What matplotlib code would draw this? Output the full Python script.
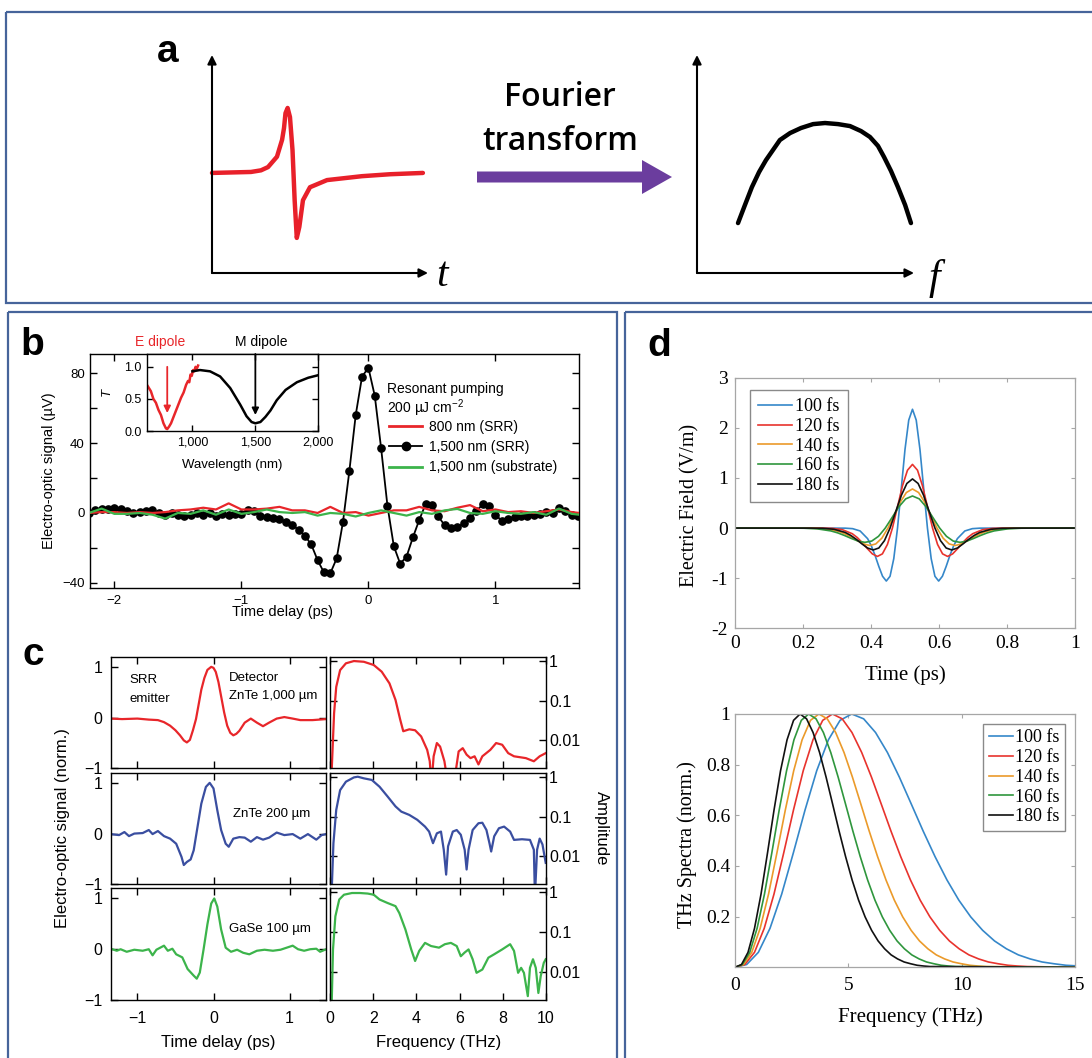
import matplotlib
matplotlib.use('Agg')
import matplotlib.pyplot as plt
from matplotlib.patches import Rectangle, FancyArrow
from matplotlib.lines import Line2D
from matplotlib.ticker import NullLocator

plt.rcParams['font.family'] = ['Liberation Sans', 'DejaVu Sans']
plt.rcParams['mathtext.fontset'] = 'custom'
plt.rcParams['mathtext.rm'] = 'Liberation Sans'
plt.rcParams['mathtext.it'] = 'Liberation Sans:italic'
plt.rcParams['axes.linewidth'] = 1.0

# ---------------- data: panel a (schematic) ----------------
pulse_time = [0.0, 0.183, 0.23, 0.263, 0.305, 0.329, 0.338, 0.345, 0.355, 0.366, 0.378,
              0.388, 0.398, 0.41, 0.427, 0.46, 0.54, 0.704, 0.836, 0.99]
pulse_amp = [0.0, 0.015, 0.04, 0.09, 0.25, 0.51, 0.69, 0.92, 1.0, 0.86, 0.35,
             -0.42, -1.0, -0.83, -0.42, -0.22, -0.11, -0.05, -0.02, 0.0]
arc_freq = [0.189, 0.221, 0.253, 0.286, 0.318, 0.382, 0.429, 0.479, 0.535, 0.59, 0.65,
            0.705, 0.756, 0.797, 0.834, 0.862, 0.894, 0.926, 0.959, 0.986]
arc_amp = [0.229, 0.312, 0.394, 0.463, 0.518, 0.61, 0.642, 0.665, 0.683, 0.688, 0.683,
           0.674, 0.651, 0.624, 0.583, 0.532, 0.468, 0.394, 0.312, 0.229]

# ---------------- data: panel b ----------------
b_time_black = [-2.20, -2.15, -2.10, -2.05, -2.00, -1.95, -1.90, -1.85, -1.80, -1.75, -1.70,
                -1.65, -1.60, -1.55, -1.50, -1.45, -1.40, -1.35, -1.30, -1.25, -1.20, -1.15,
                -1.10, -1.05, -1.00, -0.95, -0.90, -0.85, -0.80, -0.75, -0.70, -0.65, -0.60,
                -0.55, -0.50, -0.45, -0.40, -0.35, -0.30, -0.25, -0.20, -0.15, -0.10, -0.05,
                0.00, 0.05, 0.10, 0.15, 0.20, 0.25, 0.30, 0.35, 0.40, 0.45, 0.50, 0.55, 0.60,
                0.65, 0.70, 0.75, 0.80, 0.85, 0.90, 0.95, 1.00, 1.05, 1.10, 1.15, 1.20, 1.25,
                1.30, 1.35, 1.40, 1.45, 1.50, 1.55, 1.60, 1.65]
b_sig_black = [0, 1.5, 2.5, 2.5, 3, 2, 1, 0, 0.5, 1, 1.5,
               0, -1, 0, -1, -1.5, -1, 0, -1, 0, -1.5, -0.5,
               -1, -0.5, -0.5, 1.5, 1, -1.5, -2.5, -3, -3.5, -5, -7,
               -9.5, -13, -18, -27, -34, -34.5, -26, -5, 24, 56, 78,
               83, 67, 37, 4, -19, -29, -25, -14, -4, 5, 4.5, -2, -7,
               -8.5, -8, -6, -3, 1, 5, 4, -1, -4.5, -3.5, -2.5, -2, -1.5,
               -1, -0.5, 0.5, 0, 3, 1, -1, -1.5]
b_time_line = [-2.2, -2.1, -2.0, -1.9, -1.8, -1.7, -1.6, -1.5, -1.4, -1.3, -1.2, -1.1, -1.0,
               -0.9, -0.8, -0.7, -0.6, -0.5, -0.4, -0.3, -0.2, -0.1, 0.0, 0.1, 0.2, 0.3, 0.4,
               0.5, 0.6, 0.7, 0.8, 0.9, 1.0, 1.1, 1.2, 1.3, 1.4, 1.5, 1.6, 1.66]
b_sig_red = [0, 0.5, 0.5, 0, 0.5, 0, 0.5, 1.5, 2, 3, 2, 5.5, 2,
             2, 2.5, 3.5, 1.5, 1.5, 0, 3.5, 0, 0.5, -1.5, 0, 1.5, 1.5, 3.5,
             1.5, 1, 3, 4.5, 1, 2, 0.5, 1, 0, 1, 2, 0.5, 0]
b_sig_green = [0, 2.5, -0.5, -0.5, 0, -1, -3.2, 0, -0.5, 1.5, -1, 2, -0.5,
               0.5, 2, 0.5, 0, 0.5, -1.5, 0, -0.5, -2, 0, 1.5, 0, -1.5, 0.5,
               -0.5, 1.5, 2.3, 0, -0.5, 1, 0, -0.5, 0.5, -1, 2.5, -0.5, -1]
b_legend = ['800 nm (SRR)', '1,500 nm (SRR)', '1,500 nm (substrate)']

inset_red_wl = [645, 670, 690, 710, 730, 750, 770, 790, 800, 815, 830, 850, 870, 890, 910,
                930, 950, 965, 975, 985, 995, 1005, 1015, 1025, 1035, 1045]
inset_red_T = [0.70, 0.62, 0.50, 0.44, 0.33, 0.25, 0.12, 0.04, 0.03, 0.07, 0.12, 0.22, 0.32,
               0.42, 0.52, 0.60, 0.72, 0.78, 0.76, 0.88, 0.86, 0.95, 0.93, 1.0, 0.97, 1.02]
inset_blk_wl = [1000, 1060, 1140, 1220, 1300, 1380, 1430, 1470, 1500, 1540, 1580, 1620, 1670,
                1740, 1830, 1920, 2000]
inset_blk_T = [0.93, 0.95, 0.93, 0.85, 0.67, 0.41, 0.23, 0.14, 0.12, 0.14, 0.22, 0.32, 0.48,
               0.64, 0.76, 0.83, 0.87]

# ---------------- data: panel c ----------------
c1_t = [-1.35, -1.2, -1.0, -0.85, -0.73, -0.65, -0.57, -0.5, -0.44, -0.39, -0.35, -0.31, -0.27,
        -0.23, -0.19, -0.16, -0.12, -0.08, -0.03, 0.0, 0.03, 0.065, 0.10, 0.14, 0.18, 0.22,
        0.26, 0.30, 0.34, 0.41, 0.49, 0.57, 0.65, 0.73, 0.83, 0.93, 1.04, 1.14, 1.30, 1.48]
c1_v = [-0.02, -0.03, -0.02, -0.04, -0.05, -0.09, -0.16, -0.25, -0.35, -0.45, -0.49, -0.44,
        -0.25, -0.03, 0.3, 0.55, 0.78, 0.94, 1.0, 0.98, 0.9, 0.7, 0.42, 0.1, -0.16, -0.3,
        -0.35, -0.32, -0.26, -0.1, -0.02, -0.1, -0.17, -0.1, -0.02, 0.01, -0.02, -0.05,
        -0.05, -0.03]
c1_f = [0.05, 0.18, 0.28, 0.46, 0.73, 1.1, 1.56, 2.02, 2.39, 2.75, 3.03, 3.25, 3.39, 3.67,
        3.94, 4.22, 4.5, 4.62, 4.7, 4.8, 4.95, 5.1, 5.3, 5.45, 5.75, 5.96, 6.15, 6.33, 6.51,
        6.7, 6.88, 7.06, 7.43, 7.7, 7.98, 8.26, 8.53, 9.08, 9.45, 9.72, 10.0]
c1_a = [0.001, 0.048, 0.22, 0.58, 0.86, 0.98, 0.94, 0.78, 0.53, 0.27, 0.104, 0.033, 0.017,
        0.019, 0.018, 0.0126, 0.0058, 0.003, 0.0008, 0.004, 0.0086, 0.007, 0.003, 0.0009,
        0.0009, 0.0053, 0.0064, 0.0044, 0.0036, 0.004, 0.0025, 0.004, 0.0058, 0.0086, 0.0078,
        0.0048, 0.004, 0.0036, 0.003, 0.004, 0.0048]

c2_t = [-1.35, -1.24, -1.17, -1.11, -1.04, -0.93, -0.85, -0.80, -0.73, -0.65, -0.57, -0.49,
        -0.42, -0.39, -0.35, -0.30, -0.26, -0.21, -0.16, -0.10, -0.05, 0.0, 0.05, 0.10, 0.16,
        0.20, 0.26, 0.34, 0.41, 0.49, 0.57, 0.65, 0.73, 0.83, 0.93, 1.04, 1.14, 1.24, 1.35,
        1.42, 1.48]
c2_v = [-0.01, -0.03, 0.03, -0.05, 0.0, 0.01, 0.07, -0.01, 0.05, -0.05, -0.1, -0.2, -0.46,
        -0.62, -0.56, -0.51, -0.33, 0.13, 0.59, 0.92, 1.0, 0.89, 0.46, 0.07, -0.2, -0.26,
        -0.1, -0.07, -0.08, -0.16, -0.07, -0.12, -0.08, 0.02, -0.03, -0.01, -0.1, -0.01,
        -0.12, -0.03, -0.01]
c2_f = [0.06, 0.15, 0.28, 0.46, 0.73, 1.1, 1.28, 1.56, 1.93, 2.29, 2.66, 3.03, 3.3, 3.67,
        4.04, 4.4, 4.59, 4.77, 4.95, 5.14, 5.27, 5.38, 5.47, 5.69, 5.87, 6.06, 6.24, 6.33,
        6.42, 6.61, 6.88, 7.06, 7.25, 7.39, 7.47, 7.61, 7.83, 8.07, 8.35, 8.53, 8.9, 9.27,
        9.45, 9.5, 9.6, 9.72, 9.85, 10.0]
c2_a = [0.001, 0.0215, 0.147, 0.46, 0.75, 0.96, 1.0, 0.91, 0.83, 0.56, 0.32, 0.18, 0.133,
        0.11, 0.083, 0.056, 0.042, 0.0215, 0.038, 0.042, 0.0147, 0.0035, 0.018, 0.042, 0.046,
        0.035, 0.0147, 0.0047, 0.0147, 0.046, 0.068, 0.07, 0.046, 0.0215, 0.0133, 0.032,
        0.051, 0.056, 0.042, 0.026, 0.027, 0.026, 0.0147, 0.001, 0.0147, 0.028, 0.02, 0.0069]

c3_t = [-1.35, -1.27, -1.22, -1.14, -1.04, -0.93, -0.85, -0.80, -0.75, -0.65, -0.60, -0.54,
        -0.49, -0.41, -0.34, -0.26, -0.22, -0.18, -0.13, -0.08, -0.03, 0.01, 0.05, 0.10, 0.16,
        0.23, 0.31, 0.39, 0.47, 0.57, 0.67, 0.78, 0.88, 0.96, 1.04, 1.11, 1.19, 1.27, 1.35,
        1.40, 1.48]
c3_v = [0.01, -0.03, 0.0, -0.05, -0.01, -0.03, 0.0, -0.12, -0.01, 0.07, -0.03, 0.01, -0.1,
        -0.16, -0.39, -0.52, -0.58, -0.46, 0.0, 0.49, 0.9, 1.0, 0.84, 0.39, 0.03, -0.05,
        -0.01, -0.07, -0.1, -0.03, -0.01, -0.03, -0.01, 0.03, 0.07, 0.0, -0.03, 0.0, 0.01,
        -0.05, 0.0]
c3_f = [0.06, 0.13, 0.24, 0.42, 0.64, 1.01, 1.38, 1.74, 2.02, 2.29, 2.66, 3.03, 3.21, 3.49,
        3.76, 3.94, 4.13, 4.4, 4.68, 5.05, 5.32, 5.6, 5.87, 6.06, 6.24, 6.42, 6.61, 6.79,
        7.06, 7.34, 7.61, 7.98, 8.35, 8.53, 8.72, 8.86, 8.99, 9.17, 9.27, 9.41, 9.54, 9.66,
        9.77, 9.91, 10.0]
c3_a = [0.001, 0.037, 0.25, 0.66, 0.87, 0.96, 0.96, 0.93, 0.87, 0.66, 0.54, 0.45, 0.3,
        0.117, 0.037, 0.019, 0.034, 0.054, 0.045, 0.041, 0.05, 0.054, 0.045, 0.025, 0.031,
        0.037, 0.021, 0.0096, 0.0116, 0.023, 0.028, 0.037, 0.05, 0.034, 0.0096, 0.0128,
        0.0096, 0.0025, 0.0128, 0.021, 0.0128, 0.003, 0.008, 0.017, 0.021]
c_labels = ['ZnTe 1,000 µm', 'ZnTe 200 µm', 'GaSe 100 µm']

# ---------------- data: panel d ----------------
d_labels = ['100 fs', '120 fs', '140 fs', '160 fs', '180 fs']
t_100 = [0.0, 0.324, 0.346, 0.368, 0.390, 0.401, 0.412, 0.423, 0.434, 0.445, 0.456, 0.467,
         0.478, 0.489, 0.500, 0.511, 0.522, 0.533, 0.544, 0.555, 0.566, 0.577, 0.588, 0.599,
         0.610, 0.621, 0.632, 0.643, 0.654, 0.676, 0.698, 0.720, 1.0]
e_100 = [0.0, -0.002, -0.012, -0.058, -0.211, -0.355, -0.547, -0.766, -0.962, -1.057, -0.962,
         -0.610, 0.0, 0.783, 1.569, 2.154, 2.370, 2.154, 1.569, 0.783, 0.0, -0.610, -0.962,
         -1.057, -0.962, -0.766, -0.547, -0.355, -0.211, -0.058, -0.012, -0.002, 0.0]
t_120 = [0.0, 0.2565, 0.286, 0.3155, 0.345, 0.3598, 0.3745, 0.3893, 0.404, 0.4188, 0.4335,
         0.4483, 0.463, 0.4778, 0.4925, 0.5073, 0.522, 0.5368, 0.5515, 0.5663, 0.581, 0.5958,
         0.6105, 0.6253, 0.640, 0.6548, 0.6695, 0.6843, 0.699, 0.7285, 0.758, 0.7875, 1.0]
e_120 = [0.0, -0.001, -0.006, -0.031, -0.113, -0.190, -0.293, -0.410, -0.516, -0.566, -0.515,
         -0.327, 0.0, 0.419, 0.841, 1.154, 1.270, 1.154, 0.841, 0.419, 0.0, -0.327, -0.515,
         -0.566, -0.516, -0.410, -0.293, -0.190, -0.113, -0.031, -0.006, -0.001, 0.0]
t_140 = [0.0, 0.198, 0.234, 0.270, 0.306, 0.324, 0.342, 0.360, 0.378, 0.396, 0.414, 0.432,
         0.450, 0.468, 0.486, 0.504, 0.522, 0.540, 0.558, 0.576, 0.594, 0.612, 0.630, 0.648,
         0.666, 0.684, 0.702, 0.720, 0.738, 0.774, 0.810, 0.846, 1.0]
e_140 = [0.0, -0.001, -0.004, -0.019, -0.069, -0.117, -0.180, -0.252, -0.317, -0.348, -0.317,
         -0.201, 0.0, 0.258, 0.516, 0.709, 0.780, 0.709, 0.516, 0.258, 0.0, -0.201, -0.317,
         -0.348, -0.317, -0.252, -0.180, -0.117, -0.069, -0.019, -0.004, -0.001, 0.0]
t_160 = [0.0, 0.162, 0.202, 0.242, 0.282, 0.302, 0.322, 0.342, 0.362, 0.382, 0.402, 0.422,
         0.442, 0.462, 0.482, 0.502, 0.522, 0.542, 0.562, 0.582, 0.602, 0.622, 0.642, 0.662,
         0.682, 0.702, 0.722, 0.742, 0.762, 0.802, 0.842, 0.882, 1.0]
e_160 = [0.0, -0.0005, -0.003, -0.016, -0.057, -0.096, -0.148, -0.207, -0.260, -0.285, -0.260,
         -0.165, 0.0, 0.211, 0.424, 0.582, 0.640, 0.582, 0.424, 0.211, 0.0, -0.165, -0.260,
         -0.285, -0.260, -0.207, -0.148, -0.096, -0.057, -0.016, -0.003, -0.0005, 0.0]
t_180 = [0.0, 0.225, 0.258, 0.291, 0.324, 0.3405, 0.357, 0.3735, 0.390, 0.4065, 0.423, 0.4395,
         0.456, 0.4725, 0.489, 0.5055, 0.522, 0.5385, 0.555, 0.5715, 0.588, 0.6045, 0.621,
         0.6375, 0.654, 0.6705, 0.687, 0.7035, 0.720, 0.753, 0.786, 0.819, 1.0]
e_180 = [0.0, -0.001, -0.005, -0.024, -0.087, -0.147, -0.226, -0.317, -0.398, -0.437, -0.398,
         -0.252, 0.0, 0.324, 0.649, 0.890, 0.980, 0.890, 0.649, 0.324, 0.0, -0.252, -0.398,
         -0.437, -0.398, -0.317, -0.226, -0.147, -0.087, -0.024, -0.005, -0.001, 0.0]

f_100 = [0.0, 0.515, 1.03, 1.545, 2.06, 2.575, 3.09, 3.605, 4.12, 4.635, 5.15, 5.675, 6.2,
         6.725, 7.25, 7.775, 8.3, 8.825, 9.35, 9.875, 10.4, 10.925, 11.45, 11.975, 12.5,
         13.025, 13.55, 14.075, 14.6, 15.0]
s_100 = [0.0, 0.011, 0.059, 0.154, 0.289, 0.452, 0.621, 0.776, 0.898, 0.975, 1.0, 0.981,
         0.927, 0.848, 0.751, 0.645, 0.538, 0.437, 0.345, 0.265, 0.199, 0.146, 0.104, 0.073,
         0.049, 0.033, 0.021, 0.014, 0.008, 0.006]
f_120 = [0.0, 0.43, 0.86, 1.29, 1.72, 2.15, 2.58, 3.01, 3.44, 3.87, 4.3, 4.73, 5.16, 5.59,
         6.02, 6.45, 6.88, 7.31, 7.74, 8.17, 8.6, 9.03, 9.46, 9.89, 10.32, 10.75, 11.18, 11.61,
         12.04, 12.47, 12.9, 15.0]
f_140 = [0.0, 0.37, 0.74, 1.11, 1.48, 1.85, 2.22, 2.59, 2.96, 3.33, 3.7, 4.07, 4.44, 4.81,
         5.18, 5.55, 5.92, 6.29, 6.66, 7.03, 7.4, 7.77, 8.14, 8.51, 8.88, 9.25, 9.62, 9.99,
         10.36, 10.73, 11.1, 15.0]
f_160 = [0.0, 0.325, 0.65, 0.975, 1.3, 1.625, 1.95, 2.275, 2.6, 2.925, 3.25, 3.575, 3.9, 4.225,
         4.55, 4.875, 5.2, 5.525, 5.85, 6.175, 6.5, 6.825, 7.15, 7.475, 7.8, 8.125, 8.45,
         8.775, 9.1, 9.425, 9.75, 15.0]
f_180 = [0.0, 0.287, 0.574, 0.861, 1.148, 1.435, 1.722, 2.009, 2.296, 2.583, 2.87, 3.157,
         3.444, 3.731, 4.018, 4.305, 4.592, 4.879, 5.166, 5.453, 5.74, 6.027, 6.314, 6.601,
         6.888, 7.175, 7.462, 7.749, 8.036, 8.323, 8.61, 15.0]
s_120 = [0.0, 0.011, 0.059, 0.154, 0.289, 0.452, 0.621, 0.776, 0.898, 0.975, 1.0, 0.981,
         0.927, 0.848, 0.751, 0.645, 0.538, 0.437, 0.345, 0.265, 0.199, 0.146, 0.104, 0.073,
         0.049, 0.033, 0.021, 0.014, 0.008, 0.005, 0.003, 0.0]
s_140 = list(s_120)
s_160 = list(s_120)
s_180 = list(s_120)

# ---------------- figure ----------------
W, H = 1092, 1058
fig = plt.figure(figsize=(W / 100, H / 100), dpi=100)


def rect(x0, y0, x1, y1):
    return [x0 / W, 1 - y1 / H, (x1 - x0) / W, (y1 - y0) / H]


def ftext(x, y, s, **kw):
    return fig.text(x / W, 1 - y / H, s, **kw)


bg = fig.add_axes([0, 0, 1, 1], zorder=-10)
bg.set_xlim(0, W)
bg.set_ylim(H, 0)
bg.axis('off')
BORDER = '#46649a'
for (x0, y0, x1, y1) in [(6, 12, 1110, 303), (8, 312, 617, 1075), (625, 312, 1110, 1075)]:
    bg.add_patch(Rectangle((x0, y0), x1 - x0, y1 - y0, fill=False, ec=BORDER, lw=1.6))
bg.add_patch(FancyArrow(477, 177, 195, 0, width=11, head_width=34, head_length=30,
                        length_includes_head=True, color='#6b3d9e', lw=0))

LBL = dict(fontsize=28, fontweight='bold', va='baseline', ha='left')
ftext(157, 62, 'a', **LBL)
ftext(20, 355, 'b', **LBL)
ftext(22, 665, 'c', **LBL)
ftext(647, 356, 'd', **LBL)

# ---------------- panel a ----------------
arrow_kw = dict(arrowstyle='-|>', color='k', lw=1.5, mutation_scale=13, shrinkA=0, shrinkB=0)
ax_t = fig.add_axes(rect(212, 55, 428, 273))
ax_t.axis('off')
ax_t.set_xlim(0, 1.014)
ax_t.set_ylim(-1.54, 1.815)
ax_t.plot(pulse_time, pulse_amp, color='#e8202a', lw=3.2, solid_capstyle='round', clip_on=False)
ax_t.annotate('', xy=(1, 0), xytext=(0, 0), xycoords='axes fraction', arrowprops=arrow_kw)
ax_t.annotate('', xy=(0, 1), xytext=(0, 0), xycoords='axes fraction', arrowprops=arrow_kw)
ftext(442, 276, 't', fontfamily='Liberation Serif', fontstyle='italic', fontsize=30,
      ha='center', va='center')

ax_f = fig.add_axes(rect(697, 55, 914, 273))
ax_f.axis('off')
ax_f.set_xlim(0, 1)
ax_f.set_ylim(0, 1)
ax_f.plot(arc_freq, arc_amp, color='k', lw=3.2, solid_capstyle='round', clip_on=False)
ax_f.annotate('', xy=(1, 0), xytext=(0, 0), xycoords='axes fraction', arrowprops=arrow_kw)
ax_f.annotate('', xy=(0, 1), xytext=(0, 0), xycoords='axes fraction', arrowprops=arrow_kw)
ftext(934, 278, 'f', fontfamily='Liberation Serif', fontstyle='italic', fontsize=30,
      ha='center', va='center')

ftext(560, 97, 'Fourier', fontfamily='Open Sans', fontweight='semibold', fontsize=23,
      ha='center', va='center')
ftext(560, 141, 'transform', fontfamily='Open Sans', fontweight='semibold', fontsize=23,
      ha='center', va='center')

# ---------------- panel b ----------------
RED = '#e8262a'
GREEN = '#3cb44b'
axb = fig.add_axes(rect(90.2, 354, 579.3, 588))
axb.plot(b_time_black, b_sig_black, color='k', lw=1.3, marker='o', ms=5.2, zorder=2)
axb.plot(b_time_line, b_sig_red, color=RED, lw=1.6, zorder=3)
axb.plot(b_time_line, b_sig_green, color=GREEN, lw=1.6, zorder=4)
axb.set_xlim(-2.19, 1.66)
axb.set_ylim(-42.9, 90.9)
axb.set_xticks([-2, -1, 0, 1], ['\u22122', '\u22121', '0', '1'])
axb.set_yticks([-40, -20, 0, 20, 40, 60, 80], ['\u221240', '', '0', '', '40', '', '80'])
axb.tick_params(direction='in', length=5, width=1, top=True, right=True, labelsize=9.5)
axb.tick_params(axis='x', pad=5)
axb.tick_params(axis='y', pad=4)
ftext(49, 471, 'Electro-optic signal (µV)', rotation=90, ha='center', va='center', fontsize=10.5)
ftext(283, 612, 'Time delay (ps)', ha='center', va='center', fontsize=10.5)

handles = [Line2D([], [], color=RED, lw=2),
           Line2D([], [], color='k', lw=1.3, marker='o', ms=6),
           Line2D([], [], color=GREEN, lw=2)]
axb.legend(handles, b_legend, loc='upper left', bbox_to_anchor=(389 / W, 1 - 420 / H),
           bbox_transform=fig.transFigure, frameon=False, fontsize=10, handlelength=2.4,
           handletextpad=0.5, labelspacing=0.45, borderpad=0, borderaxespad=0, numpoints=1)
ftext(387, 389, 'Resonant pumping', fontsize=10, ha='left', va='center')
ftext(387, 408, '200 µJ cm$^{\\mathrm{-2}}$', fontsize=10, ha='left', va='center')

axi = fig.add_axes(rect(147.1, 354, 318.3, 431))
axi.set_facecolor('white')
axi.plot(inset_red_wl, inset_red_T, color=RED, lw=1.8)
axi.plot(inset_blk_wl, inset_blk_T, color='k', lw=1.8)
axi.set_xlim(640, 2000)
axi.set_ylim(0, 1.2)
axi.set_xticks([1000, 1500, 2000], ['1,000', '1,500', '2,000'])
axi.set_yticks([0, 0.5, 1.0], ['0.0', '0.5', '1.0'])
axi.tick_params(direction='in', length=4, width=1, top=True, right=True, labelsize=9, pad=4)
axi.annotate('', xy=(800, 0.28), xytext=(800, 1.0),
             arrowprops=dict(arrowstyle='-|>', color=RED, lw=1.3, mutation_scale=10,
                             shrinkA=0, shrinkB=0))
axi.annotate('', xy=(1500, 0.25), xytext=(1500, 1.2),
             arrowprops=dict(arrowstyle='-|>', color='k', lw=1.3, mutation_scale=10,
                             shrinkA=0, shrinkB=0))
ftext(160, 342, 'E dipole', color=RED, fontsize=10, ha='center', va='center')
ftext(261, 342, 'M dipole', color='k', fontsize=10, ha='center', va='center')
ftext(232, 465, 'Wavelength (nm)', fontsize=9.5, ha='center', va='center')
ftext(107, 392, 'T', fontsize=9.5, fontstyle='italic', rotation=90, ha='center', va='center')

# ---------------- panel c ----------------
BLUE_C = '#3a4ea0'
rows = [(656.7, 768.3), (772.7, 884.3), (888.3, 1000)]
c_time = [c1_t, c2_t, c3_t]
c_sig = [c1_v, c2_v, c3_v]
c_freq = [c1_f, c2_f, c3_f]
c_amp = [c1_a, c2_a, c3_a]
c_cols = [RED, BLUE_C, GREEN]
for i, (y0, y1) in enumerate(rows):
    axl = fig.add_axes(rect(110.7, y0, 326.2, y1))
    axl.plot(c_time[i], c_sig[i], color=c_cols[i], lw=1.6)
    axl.set_xlim(-1.35, 1.48)
    axl.set_ylim(-1, 1.2)
    axl.set_yticks([-1, 0, 1], ['\u22121', '0', '1'])
    axl.set_xticks([-1, 0, 1], ['\u22121', '0', '1'] if i == 2 else ['', '', ''])
    axl.tick_params(direction='in', length=5, width=1, top=True, right=True, labelsize=11.5)
    axl.tick_params(axis='y', pad=6)
    axl.tick_params(axis='x', pad=8)

    axr = fig.add_axes(rect(330.2, y0, 545.7, y1))
    axr.plot(c_freq[i], c_amp[i], color=c_cols[i], lw=1.6)
    axr.set_yscale('log')
    axr.set_xlim(0, 10)
    axr.set_ylim(0.002, 1.26)
    axr.set_yticks([0.01, 0.1, 1], ['0.01', '0.1', '1'])
    axr.yaxis.set_minor_locator(NullLocator())
    axr.set_xticks([0, 2, 4, 6, 8, 10],
                   ['0', '2', '4', '6', '8', '10'] if i == 2 else [''] * 6)
    axr.tick_params(direction='in', length=5, width=1, top=True, right=True, left=True,
                    labelleft=False, labelright=True, labelsize=11.5)
    axr.tick_params(axis='y', pad=2.5)
    axr.tick_params(axis='x', pad=8)

ftext(129, 680, 'SRR', fontsize=9.5, ha='left', va='center')
ftext(129, 699, 'emitter', fontsize=9.5, ha='left', va='center')
ftext(229, 678, 'Detector', fontsize=9.5, ha='left', va='center')
ftext(229, 696, c_labels[0], fontsize=9.5, ha='left', va='center')
ftext(233, 814, c_labels[1], fontsize=9.5, ha='left', va='center')
ftext(229, 929, c_labels[2], fontsize=9.5, ha='left', va='center')
ftext(63, 828, 'Electro-optic signal (norm.)', rotation=90, ha='center', va='center',
      fontsize=12)
ftext(601, 828, 'Amplitude', rotation=270, ha='center', va='center', fontsize=12)
ftext(218, 1043, 'Time delay (ps)', ha='center', va='center', fontsize=12)
ftext(439, 1043, 'Frequency (THz)', ha='center', va='center', fontsize=12)

# ---------------- panel d ----------------
SERIF = 'Liberation Serif'
d_cols = ['#3587c9', '#e8332d', '#eb9a2a', '#2f963d', '#111111']
GRAY = '#a6a6a6'

axd1 = fig.add_axes(rect(735, 377.7, 1075, 628.3))
for tt, ee, cc, lb in zip([t_100, t_120, t_140, t_160, t_180],
                          [e_100, e_120, e_140, e_160, e_180], d_cols, d_labels):
    axd1.plot(tt, ee, color=cc, lw=1.2, label=lb)
axd1.set_xlim(0, 1)
axd1.set_ylim(-2, 3)
axd1.set_xticks([0, 0.2, 0.4, 0.6, 0.8, 1.0], ['0', '0.2', '0.4', '0.6', '0.8', '1'],
                fontfamily=SERIF, fontsize=14)
axd1.set_yticks([-2, -1, 0, 1, 2, 3], ['-2', '-1', '0', '1', '2', '3'],
                fontfamily=SERIF, fontsize=14)
axd1.tick_params(direction='in', length=3, width=0.8, color=GRAY, top=True, right=True)
axd1.tick_params(axis='x', pad=5)
axd1.tick_params(axis='y', pad=5)
for sp in axd1.spines.values():
    sp.set_color(GRAY)
    sp.set_linewidth(0.9)
axd1.legend(loc='upper left', bbox_to_anchor=(750 / W, 1 - 390 / H),
            bbox_transform=fig.transFigure, prop={'family': SERIF, 'size': 13},
            fancybox=False, edgecolor='#8a8a8a', framealpha=1, borderpad=0.45,
            handlelength=1.9, handletextpad=0.15, labelspacing=0.15, borderaxespad=0)
ftext(690, 505, 'Electric Field (V/m)', rotation=90, ha='center', va='center',
      fontfamily=SERIF, fontsize=14.5)
ftext(905, 675, 'Time (ps)', ha='center', va='center', fontfamily=SERIF, fontsize=15)

axd2 = fig.add_axes(rect(735, 714, 1075, 967.3))
for ff, ss, cc, lb in zip([f_100, f_120, f_140, f_160, f_180],
                          [s_100, s_120, s_140, s_160, s_180], d_cols, d_labels):
    axd2.plot(ff, ss, color=cc, lw=1.2, label=lb)
axd2.set_xlim(0, 15)
axd2.set_ylim(0, 1)
axd2.set_xticks([0, 5, 10, 15], ['0', '5', '10', '15'], fontfamily=SERIF, fontsize=14)
axd2.set_yticks([0.2, 0.4, 0.6, 0.8, 1.0], ['0.2', '0.4', '0.6', '0.8', '1'],
                fontfamily=SERIF, fontsize=14)
axd2.tick_params(direction='in', length=3, width=0.8, color=GRAY, top=True, right=True)
axd2.tick_params(axis='x', pad=7)
axd2.tick_params(axis='y', pad=3.5)
for sp in axd2.spines.values():
    sp.set_color(GRAY)
    sp.set_linewidth(0.9)
axd2.legend(loc='upper right', bbox_to_anchor=(1065 / W, 1 - 724 / H),
            bbox_transform=fig.transFigure, prop={'family': SERIF, 'size': 13},
            fancybox=False, edgecolor='#8a8a8a', framealpha=1, borderpad=0.3,
            handlelength=1.35, handletextpad=0.1, labelspacing=0.15, borderaxespad=0)
ftext(687, 845, 'THz Spectra (norm.)', rotation=90, ha='center', va='center',
      fontfamily=SERIF, fontsize=14.5)
ftext(910, 1017, 'Frequency (THz)', ha='center', va='center', fontfamily=SERIF, fontsize=15)

fig.savefig('out.png', dpi=100, facecolor='white')
